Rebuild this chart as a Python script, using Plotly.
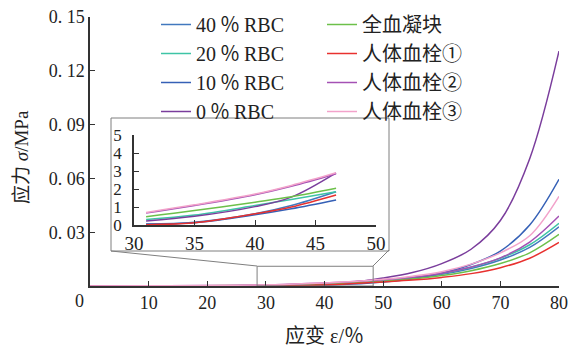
import plotly.graph_objects as go

W, H = 582, 349

# strain (%) sample points
strain = [0, 10, 20, 25, 31, 35, 40, 43, 46.7, 50, 55, 60, 65, 70, 75, 80]

# stress (MPa) for each sample
rbc40 = [0, 0.00001, 0.00002, 0.00003, 0.00006, 0.00015, 0.00062, 0.00108, 0.00185,
         0.0025, 0.0042, 0.0066, 0.0098, 0.0145, 0.0215, 0.0330]
rbc20 = [0, 0.00003, 0.0001, 0.00018, 0.00030, 0.00055, 0.00108, 0.00142, 0.00185,
         0.0026, 0.0045, 0.0070, 0.0105, 0.0155, 0.0230, 0.0350]
rbc10 = [0, 0.00001, 0.00002, 0.00003, 0.00004, 0.00013, 0.00057, 0.00090, 0.00139,
         0.0022, 0.0040, 0.0072, 0.0120, 0.0195, 0.0340, 0.0595]
rbc0 = [0, 0.00002, 0.00006, 0.00012, 0.00022, 0.00048, 0.00102, 0.00155, 0.00290,
        0.0044, 0.0075, 0.0125, 0.0205, 0.0365, 0.0710, 0.1310]
whole_clot = [0, 0.00005, 0.00015, 0.0003, 0.00046, 0.00080, 0.00127, 0.00157, 0.00204,
              0.0026, 0.0040, 0.0058, 0.0085, 0.0125, 0.0185, 0.0288]
human1 = [0, 0.00001, 0.00001, 0.00002, 0.00002, 0.00012, 0.00062, 0.00100, 0.00167,
          0.0023, 0.0033, 0.0048, 0.0069, 0.0102, 0.0155, 0.0243]
human2 = [0, 0.00008, 0.00025, 0.0004, 0.00066, 0.00108, 0.00168, 0.00215, 0.00285,
          0.0035, 0.0049, 0.0071, 0.0106, 0.0157, 0.0245, 0.0390]
human3 = [0, 0.0001, 0.0003, 0.00045, 0.00070, 0.00112, 0.00172, 0.00220, 0.00290,
          0.0037, 0.0055, 0.0080, 0.0122, 0.0185, 0.0280, 0.0500]

names = ["40\u2009％\u2009RBC", "20\u2009％\u2009RBC", "10\u2009％\u2009RBC", "0\u2009％\u2009RBC",
         "全血凝块", "人体血栓①", "人体血栓②", "人体血栓③"]
series = [rbc40, rbc20, rbc10, rbc0, whole_clot, human1, human2, human3]
colors = ["#4178be", "#3ec4a6", "#3560b6", "#7a3d9c",
          "#6cc04a", "#e8312f", "#a451b4", "#f2a2ca"]
legends = ["legend"] * 4 + ["legend2"] * 4

main_ticks = [10, 20, 30, 40, 50, 60, 70, 80]
y_ticks = [0.03, 0.06, 0.09, 0.12, 0.15]
y_ticktext = ["0. 03", "0. 06", "0. 09", "0. 12", "0. 15"]
inset_xticks = [30, 35, 40, 45, 50]
inset_yticks = [0, 1, 2, 3, 4, 5]
inset_lo, inset_hi = 31, 46.7

SERIF = "Liberation Serif, Noto Sans CJK SC, serif"
AX = "#333333"

fig = go.Figure()
for name, vals, col, leg in zip(names, series, colors, legends):
    fig.add_trace(go.Scatter(
        x=strain, y=vals, mode="lines", name=name, legend=leg,
        line=dict(color=col, width=1.5, shape="spline"),
        xaxis="x", yaxis="y"))
for name, vals, col in zip(names, series, colors):
    xs = [s for s in strain if inset_lo <= s <= inset_hi]
    ys = [v * 1000 for s, v in zip(strain, vals) if inset_lo <= s <= inset_hi]
    fig.add_trace(go.Scatter(
        x=xs, y=ys, mode="lines", showlegend=False,
        line=dict(color=col, width=1.5, shape="spline"),
        xaxis="x2", yaxis="y2"))

def px(x):
    return x / W

def py(y):
    return (H - y) / H

axis_common = dict(showline=True, linecolor=AX, linewidth=1.5, ticks="inside",
                   ticklen=5, tickwidth=1.2, tickcolor=AX, showgrid=False,
                   zeroline=False, fixedrange=True, automargin=False)

legend_common = dict(xanchor="left", yanchor="top", bgcolor="rgba(0,0,0,0)",
                     font=dict(size=20, family=SERIF), tracegroupgap=0,
                     xref="container", yref="container")

fig.update_layout(
    width=W, height=H, margin=dict(l=0, r=0, t=0, b=0, pad=0, autoexpand=False),
    paper_bgcolor="white", plot_bgcolor="rgba(0,0,0,0)",
    font=dict(family=SERIF, color="#222222"),
    xaxis=dict(domain=[px(90), px(559)], range=[0, 80], tickvals=main_ticks,
               tickfont=dict(size=18, family=SERIF), anchor="y", **axis_common),
    yaxis=dict(domain=[py(286), py(17)], range=[0, 0.15], tickvals=y_ticks,
               ticktext=y_ticktext, tickfont=dict(size=18, family=SERIF),
               anchor="x", **axis_common),
    xaxis2=dict(domain=[px(134), px(376)], range=[30, 50], tickvals=inset_xticks,
                tickfont=dict(size=19, family=SERIF), anchor="y2", **axis_common),
    yaxis2=dict(domain=[py(225), py(135)], range=[0, 5], tickvals=inset_yticks,
                tickfont=dict(size=17, family=SERIF), anchor="x2",
                ticklabelstandoff=7, **axis_common),
    legend=dict(x=px(156), y=py(5), **legend_common),
    legend2=dict(x=px(322), y=py(5), **legend_common),
    showlegend=True,
)

grey = dict(color="#7f7f7f", width=1)
fig.add_shape(type="rect", xref="paper", yref="paper",
              x0=px(111), x1=px(389), y0=py(251), y1=py(118), line=grey)
fig.add_shape(type="rect", xref="x", yref="y",
              x0=28.5, x1=48.3, y0=0, y1=0.011, line=grey)
fig.add_shape(type="line", xref="paper", yref="paper",
              x0=px(111), y0=py(251), x1=px(257), y1=py(266), line=grey)
fig.add_shape(type="line", xref="paper", yref="paper",
              x0=px(389), y0=py(250), x1=px(373), y1=py(266), line=grey)

fig.add_annotation(text="0", x=px(79), y=py(301), xref="paper", yref="paper",
                   xanchor="center", yanchor="middle", showarrow=False,
                   font=dict(size=18, family=SERIF))
fig.add_annotation(text="应变 ε/％", x=px(324), y=py(336), xref="paper", yref="paper",
                   xanchor="center", yanchor="middle", showarrow=False,
                   font=dict(size=20, family=SERIF))
fig.add_annotation(text="应力 <i>σ</i>/MPa", x=px(21), y=py(157), xref="paper",
                   yref="paper", xanchor="center", yanchor="middle",
                   textangle=-90, showarrow=False,
                   font=dict(size=19, family=SERIF))

fig.write_html("out.html")
